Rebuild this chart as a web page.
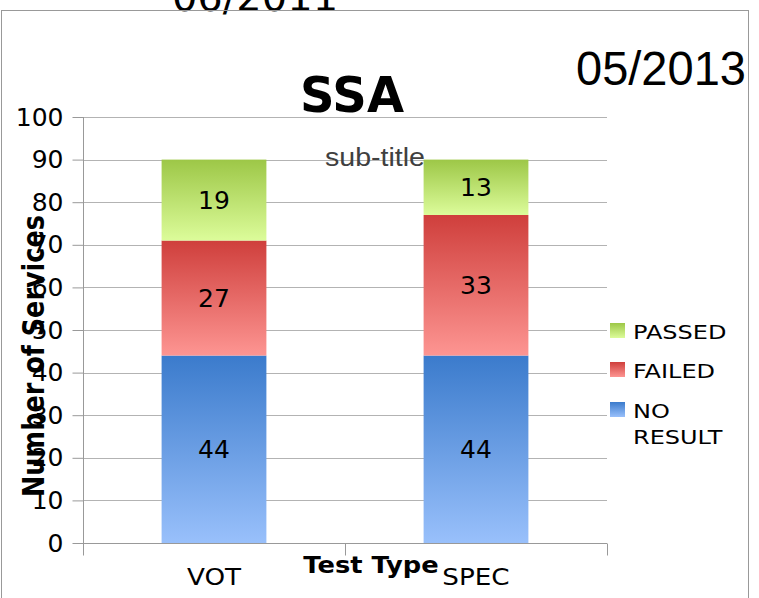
<!DOCTYPE html>
<html>
<head>
<meta charset="utf-8">
<script src="https://cdn.jsdelivr.net/npm/d3@7"></script>
<style>
  body { margin: 0; background: #fff; }
  svg { display: block; font-family: 'DejaVu Sans', sans-serif; }
</style>
</head>
<body>
<div class="chart"></div>
<script>
const categories = ['VOT', 'SPEC']
const seriesNames = ['NO RESULT', 'FAILED', 'PASSED']
const noResult = [44, 44]
const failed = [27, 33]
const passed = [19, 13]
const yTicks = [0, 10, 20, 30, 40, 50, 60, 70, 80, 90, 100]
const legendOrder = ['PASSED', 'FAILED', 'NO RESULT']

;(function init() {
  const width = 759
  const height = 598
  const margin = { top: 117, left: 83, right: 152, bottom: 55 }

  const gradients = {
    'NO RESULT': ['#3b7bcc', '#99c0fb'],
    FAILED: ['#cf3f3c', '#fd9592'],
    PASSED: ['#9dc747', '#dcfc9a']
  }
  const gradId = { 'NO RESULT': 'g-nores', FAILED: 'g-failed', PASSED: 'g-passed' }

  const dataset = categories.map((c, i) => ({
    type: c,
    'NO RESULT': noResult[i],
    FAILED: failed[i],
    PASSED: passed[i]
  }))
  const stacked = d3.stack().keys(seriesNames)(dataset)

  const xScale = d3
    .scaleBand()
    .domain(categories)
    .range([margin.left, width - margin.right])
    .paddingInner(0.6)
    .paddingOuter(0.3)

  const yScale = d3
    .scaleLinear()
    .domain([0, 100])
    .range([height - margin.bottom, margin.top])

  const svg = d3
    .select('.chart')
    .append('svg')
    .attr('width', width)
    .attr('height', height)

  const defs = svg.append('defs')
  for (const key of seriesNames) {
    const g = defs
      .append('linearGradient')
      .attr('id', gradId[key])
      .attr('x1', 0)
      .attr('y1', 0)
      .attr('x2', 0)
      .attr('y2', 1)
    g.append('stop').attr('offset', '0%').attr('stop-color', gradients[key][0])
    g.append('stop').attr('offset', '100%').attr('stop-color', gradients[key][1])
  }

  // top stray date
  svg
    .append('text')
    .attr('x', 255)
    .attr('y', 11)
    .attr('text-anchor', 'middle')
    .style('font-size', '40px')
    .text('06/2011')

  // outer frame
  svg
    .append('rect')
    .attr('x', 1.5)
    .attr('y', 10.5)
    .attr('width', 747)
    .attr('height', 600)
    .attr('fill', 'none')
    .attr('stroke', '#999')

  svg
    .append('text')
    .attr('x', 746)
    .attr('y', 85)
    .attr('text-anchor', 'end')
    .style('font-family', "'Liberation Sans', Arial, sans-serif")
    .style('font-size', '48px')
    .attr('textLength', 170)
    .attr('lengthAdjust', 'spacingAndGlyphs')
    .text('05/2013')

  // gridlines
  svg
    .append('g')
    .selectAll('line')
    .data(yTicks.filter((d) => d > 0))
    .enter()
    .append('line')
    .attr('x1', margin.left)
    .attr('x2', width - margin.right)
    .attr('y1', (d) => Math.round(yScale(d)) + 0.5)
    .attr('y2', (d) => Math.round(yScale(d)) + 0.5)
    .attr('stroke', '#b3b3b3')

  // bars
  for (const layer of stacked) {
    svg
      .append('g')
      .selectAll('rect')
      .data(layer)
      .enter()
      .append('rect')
      .attr('x', (d) => xScale(d.data.type))
      .attr('y', (d) => yScale(d[1]))
      .attr('width', xScale.bandwidth())
      .attr('height', (d) => yScale(d[0]) - yScale(d[1]))
      .attr('fill', `url(#${gradId[layer.key]})`)

    svg
      .append('g')
      .selectAll('text')
      .data(layer)
      .enter()
      .append('text')
      .attr('x', (d) => xScale(d.data.type) + xScale.bandwidth() / 2)
      .attr('y', (d) => (yScale(d[0]) + yScale(d[1])) / 2)
      .attr('dy', '0.36em')
      .attr('text-anchor', 'middle')
      .style('font-size', '25px')
      .text((d) => d[1] - d[0])
  }

  // y axis
  const yAxis = d3
    .axisLeft(yScale)
    .tickValues(yTicks)
    .tickSize(11)
    .tickPadding(9)
  const yAxisG = svg
    .append('g')
    .attr('transform', 'translate(' + (margin.left + 0.5) + ',0)')
    .call(yAxis)
  yAxisG.select('.domain').remove()
  yAxisG.selectAll('.tick line').attr('stroke', '#999')
  yAxisG
    .selectAll('.tick text')
    .style('font-family', "'DejaVu Sans', sans-serif")
    .style('font-size', '25px')
    .attr('fill', '#000')
  yAxisG
    .append('line')
    .attr('y1', margin.top)
    .attr('y2', height - margin.bottom + 11)
    .attr('stroke', '#999')

  // x axis
  const xBase = Math.round(yScale(0)) + 0.5
  const gap = (xScale.step() - xScale.bandwidth()) / 2
  const boundaries = categories.map((c) => xScale(c) - gap)
  boundaries.push(xScale.range()[1])
  const xAxisG = svg.append('g')
  xAxisG
    .append('line')
    .attr('x1', xScale.range()[0])
    .attr('x2', xScale.range()[1])
    .attr('y1', xBase)
    .attr('y2', xBase)
    .attr('stroke', '#999')
  xAxisG
    .selectAll('.xtick')
    .data(boundaries)
    .enter()
    .append('line')
    .attr('x1', (d) => Math.round(d) + 0.5)
    .attr('x2', (d) => Math.round(d) + 0.5)
    .attr('y1', xBase)
    .attr('y2', xBase + 12)
    .attr('stroke', '#999')
  xAxisG
    .selectAll('.xlabel')
    .data(categories)
    .enter()
    .append('text')
    .attr('transform', (d) => `translate(${xScale(d) + xScale.bandwidth() / 2},585) scale(1.14,1)`)
    .attr('text-anchor', 'middle')
    .style('font-size', '23px')
    .text((d) => d)

  // titles
  svg
    .append('text')
    .attr('x', 352)
    .attr('y', 112)
    .attr('text-anchor', 'middle')
    .style('font-size', '49px')
    .style('font-weight', 'bold')
    .attr('textLength', 104)
    .attr('lengthAdjust', 'spacingAndGlyphs')
    .text('SSA')

  svg
    .append('text')
    .attr('x', 375)
    .attr('y', 166)
    .attr('text-anchor', 'middle')
    .style('font-family', "'Liberation Sans', Arial, sans-serif")
    .style('font-size', '26px')
    .attr('fill', '#404040')
    .attr('textLength', 100)
    .attr('lengthAdjust', 'spacingAndGlyphs')
    .text('sub-title')

  svg
    .append('text')
    .attr('transform', 'translate(371,573) scale(1.12,1)')
    .attr('text-anchor', 'middle')
    .style('font-size', '23px')
    .style('font-weight', 'bold')
    .text('Test Type')

  svg
    .append('text')
    .attr('transform', 'translate(44,356) scale(1.13,1) rotate(-90)')
    .attr('text-anchor', 'middle')
    .style('font-size', '26px')
    .style('font-weight', 'bold')
    .attr('textLength', 282)
    .attr('lengthAdjust', 'spacingAndGlyphs')
    .text('Number of Services')

  // legend
  const legendY = { PASSED: 323, FAILED: 362, 'NO RESULT': 402 }
  const legend = svg
    .selectAll('.legend')
    .data(legendOrder)
    .enter()
    .append('g')
    .attr('transform', (d) => `translate(610,${legendY[d]})`)
  legend
    .append('rect')
    .attr('width', 15)
    .attr('height', 15)
    .attr('fill', (d) => `url(#${gradId[d]})`)
  legend
    .append('text')
    .attr('transform', 'translate(23,16) scale(1.2,1)')
    .style('font-size', '20px')
    .selectAll('tspan')
    .data((d) => d.split(' '))
    .enter()
    .append('tspan')
    .attr('x', 0)
    .attr('dy', (d, i) => (i === 0 ? 0 : 26))
    .text((d) => d)
})()
</script>
</body>
</html>
